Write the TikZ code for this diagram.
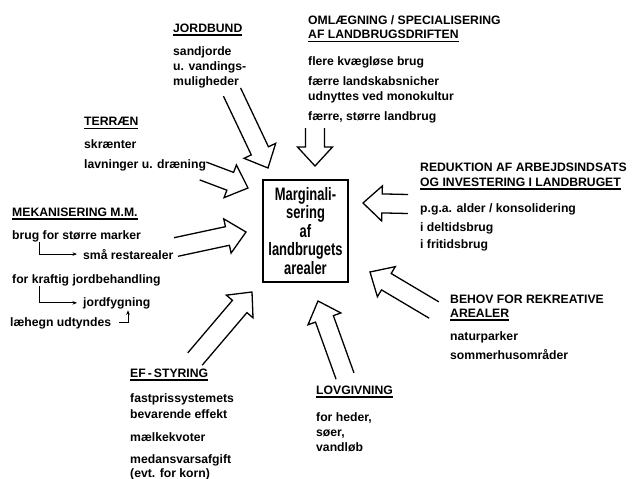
\documentclass[tikz,border=0pt]{standalone}
\usepackage{fontspec}
\setmainfont{Liberation Sans}
\newfontfamily\condfont[FakeStretch=0.72]{Liberation Sans}
\usetikzlibrary{positioning,calc,arrows.meta}
\newcommand{\shw}{9.5pt}
\newcommand{\hdw}{17.5pt}
\newcommand{\hdl}{19pt}
\newcommand{\hdline}[1]{\setbox0\hbox{#1}\leavevmode\rlap{\rule[-3.5pt]{\wd0}{1.1pt}}\box0}
\newcommand{\blockarrow}[2]{%
  \draw[hollow]
    ($(#1)!\shw!90:(#2)$)
    -- ($(#2)!\hdl!(#1)!\shw!-90:(#1)$)
    -- ($(#2)!\hdl!(#1)!\hdw!-90:(#1)$)
    -- (#2)
    -- ($(#2)!\hdl!(#1)!\hdw!90:(#1)$)
    -- ($(#2)!\hdl!(#1)!\shw!90:(#1)$)
    -- ($(#1)!\shw!-90:(#2)$);}

\begin{document}
\begin{tikzpicture}[x=1pt,y=-1pt,font=\bfseries\fontsize{12.2}{15}\selectfont]
  \useasboundingbox (0,0) rectangle (632,479);
  \tikzset{txt/.style={anchor=base west,inner sep=0pt},
           blk/.style={anchor=north west,yshift=8.7pt,align=left,inner sep=0pt},
           hollow/.style={draw,line width=1.3pt,line join=miter},
           smallarr/.style={line width=0.9pt,-{Stealth[length=4.5pt,width=3.5pt]}}}
  % centre box
  \node[draw,line width=1.6pt,minimum width=85pt,minimum height=102pt,inner sep=0pt,
        align=center,font=\condfont\bfseries\fontsize{18}{18.5}\selectfont]
    (marg) at (305.5,231) {Marginali-\\sering\\af\\landbrugets\\arealer};
  % factors (at first baseline)
  \node[blk] (jordbund) at (173,32) {\hdline{JORDBUND}\\[8pt]sandjorde\\u. vandings-\\muligheder};
  \node[blk] (omlaeg) at (308,24) {OMLÆGNING / SPECIALISERING\\[-1pt]\hdline{AF LANDBRUGSDRIFTEN}\\[12pt]flere kvægløse brug\\[5pt]færre landskabsnicher\\udnyttes ved monokultur\\[5pt]færre, større landbrug};
  \node[blk] (terraen) at (84,126) {\hdline{TERRÆN}\\[8pt]skrænter\\[5pt]lavninger u. dræning};
  \node[blk] (mekan) at (12,216) {\hdline{MEKANISERING M.M.}\\[8pt]brug for større marker};
  \node[txt] (rest) at (83,259) {små restarealer};
  \node[txt] (kraftig) at (12,283) {for kraftig jordbehandling};
  \node[txt] (fyg) at (83,306) {jordfygning};
  \node[txt] (laehegn) at (10,326) {læhegn udtyndes};
  \node[blk] (reduk) at (420,171) {REDUKTION AF ARBEJDSINDSATS\\\hdline{OG INVESTERING I LANDBRUGET}\\[11pt]p.g.a. alder / konsolidering\\[4pt]i deltidsbrug\\[2pt]i fritidsbrug};
  \node[blk] (behov) at (450,303) {BEHOV FOR REKREATIVE\\[-1pt]\hdline{AREALER}\\[8pt]naturparker\\[4pt]sommerhusområder};
  \node[blk] (lov) at (316,394) {\hdline{LOVGIVNING}\\[12pt]for heder,\\søer,\\vandløb};
  \node[blk] (ef) at (130,377) {\hdline{EF\,-\,STYRING}\\[10pt]fastprissystemets\\[1pt]bevarende effekt\\[8pt]mælkekvoter\\[7pt]medansvarsafgift\\[-1pt](evt. for korn)};
  % small arrows under mekanisering
  \draw[smallarr] ([xshift=27pt]mekan.south west) |- ([xshift=-6pt]rest.west);
  \draw[smallarr] ([xshift=27pt]kraftig.south west) |- ([xshift=-6pt]fyg.west);
  \draw[smallarr,shorten >=1.5pt] ([xshift=8pt]laehegn.east) -| ([xshift=45pt]fyg.south west);
  % block arrows: tail / tip
  \coordinate (jb-a) at (232,92);  \coordinate (jb-b) at (268,168);
  \coordinate (om-a) at (315,128); \coordinate (om-b) at (315,166);
  \coordinate (te-a) at (203,171); \coordinate (te-b) at (248,188);
  \coordinate (me-a) at (176,247); \coordinate (me-b) at (246,232);
  \coordinate (re-a) at (408,204); \coordinate (re-b) at (363,203);
  \coordinate (be-a) at (434,310); \coordinate (be-b) at (370,272);
  \coordinate (lo-a) at (345,376); \coordinate (lo-b) at (318,301);
  \coordinate (ef-a) at (195,359); \coordinate (ef-b) at (252,292);
  \foreach \n in {jb,om,te,me,re,be,lo,ef}
    \blockarrow{\n-a}{\n-b};
\end{tikzpicture}
\end{document}
